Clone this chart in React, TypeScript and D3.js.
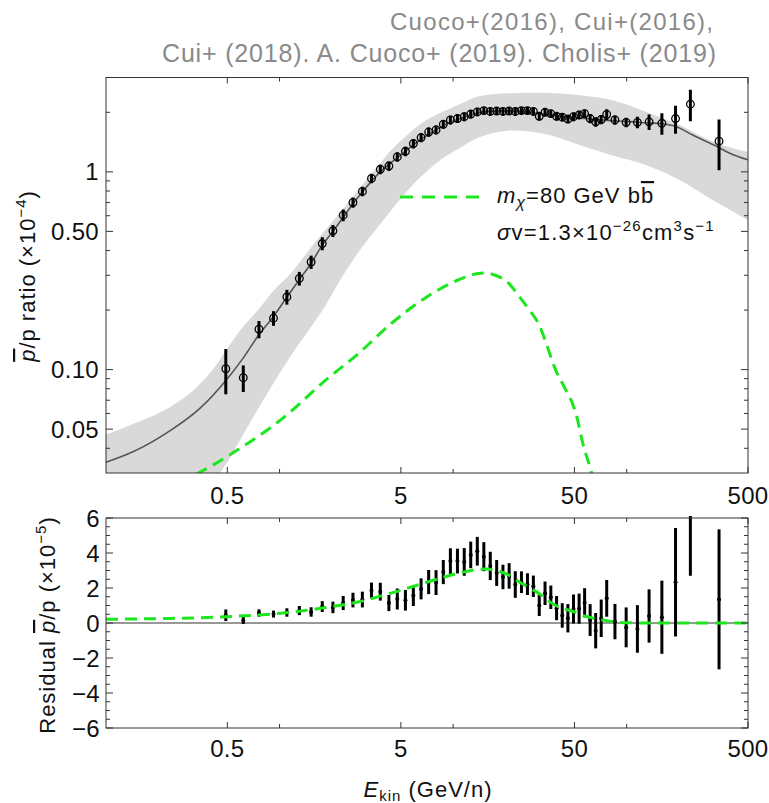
import React from 'react';
import * as d3 from 'd3';

const FONT = "'Liberation Sans', Arial, Helvetica, sans-serif";
const GREEN = '#1ee61e';
const AXIS = '#333333';

// AMS-02 antiproton/proton data (E_kin in GeV/n)
const energy = [0.49, 0.618, 0.761, 0.923, 1.102, 1.30, 1.52, 1.762, 2.03, 2.326,
  2.648, 3.00, 3.385, 3.805, 4.266, 4.768, 5.311, 5.90, 6.538, 7.228,
  7.973, 8.778, 9.644, 10.59, 11.59, 12.63, 13.78, 15.03, 16.37, 17.82,
  19.37, 21.02, 22.81, 24.76, 26.81, 29.0, 31.35, 33.85, 36.55, 39.45,
  42.54, 45.84, 49.39, 53.19, 57.23, 61.58, 66.27, 71.32, 76.72, 85.59,
  99.29, 115.3, 134.6, 159.5, 191.2, 232.8, 340.5];
// ratio in units of 1e-4
const ratio = [0.101, 0.091, 0.160, 0.182, 0.233, 0.289, 0.350, 0.434, 0.503, 0.604,
  0.700, 0.796, 0.926, 1.03, 1.07, 1.19, 1.27, 1.39, 1.49, 1.59,
  1.63, 1.74, 1.83, 1.86, 1.90, 1.96, 2.01, 2.04, 2.02, 2.03,
  2.02, 2.03, 2.02, 2.04, 2.04, 2.02, 1.91, 2.00, 1.97, 1.91,
  1.89, 1.85, 1.90, 1.94, 1.97, 1.86, 1.79, 1.84, 1.95, 1.83,
  1.78, 1.78, 1.79, 1.76, 1.86, 2.20, 1.43];
const ratioErr = [0.026, 0.014, 0.016, 0.0155, 0.02, 0.023, 0.027, 0.033, 0.035, 0.041,
  0.042, 0.044, 0.051, 0.057, 0.059, 0.065, 0.07, 0.076, 0.08, 0.085,
  0.087, 0.09, 0.093, 0.094, 0.095, 0.097, 0.098, 0.09, 0.09, 0.09,
  0.09, 0.09, 0.09, 0.09, 0.09, 0.09, 0.09, 0.09, 0.09, 0.09,
  0.09, 0.09, 0.095, 0.095, 0.095, 0.1, 0.1, 0.1, 0.12, 0.1,
  0.1, 0.12, 0.16, 0.22, 0.3, 0.4, 0.41];
// residual in units of 1e-5
const residual = [0.44, 0.15, 0.57, 0.51, 0.60, 0.71, 0.63, 0.94, 0.89, 1.14,
  1.31, 1.34, 1.86, 1.79, 1.14, 1.37, 1.30, 1.57, 1.95, 2.34,
  2.31, 2.91, 3.54, 3.54, 3.49, 3.89, 4.10, 3.79, 3.26, 2.86,
  2.63, 2.69, 2.20, 2.33, 2.22, 2.10, 1.00, 1.70, 1.47, 0.85,
  0.43, 0.27, 0.80, 0.82, 1.16, 0.17, -0.44, 0.27, 1.41, 0.08,
  -0.25, -0.34, 0.40, 0.33, 2.33, 6.6, 1.35];
const residualErr = [0.33, 0.21, 0.21, 0.20, 0.24, 0.26, 0.27, 0.31, 0.33, 0.40,
  0.42, 0.45, 0.45, 0.51, 0.46, 0.60, 0.59, 0.60, 0.60, 0.69,
  0.71, 0.69, 0.73, 0.71, 0.79, 0.76, 0.82, 0.83, 0.81, 0.74,
  0.70, 0.73, 0.76, 0.62, 0.62, 0.61, 0.60, 0.67, 0.67, 0.69,
  0.70, 0.81, 0.83, 0.86, 0.83, 0.91, 1.01, 1.07, 1.05, 1.01,
  1.14, 1.36, 1.52, 2.09, 3.10, 3.9, 4.0];

// best-fit model curve (1e-4)
const modelE = [0.1, 0.144, 0.225, 0.35, 0.5, 0.62, 0.76, 0.92, 1.1, 1.3, 1.52, 1.76, 2.03, 2.33, 2.65, 3.0, 3.4, 3.8, 4.27, 4.77,
  5.3, 5.9, 6.54, 7.23, 7.97, 8.78, 9.64, 10.6, 11.6, 12.6, 13.8, 15, 16.4, 17.8, 19.4, 21, 22.8, 26.8, 31.4, 39.5,
  49.4, 61.6, 76.7, 99, 130, 160, 190, 242, 316, 411, 500];
const modelRatio = [0.034, 0.0385, 0.048, 0.064, 0.090, 0.115, 0.150, 0.185, 0.232, 0.285, 0.345, 0.425, 0.50, 0.59, 0.69, 0.79, 0.90, 1.00, 1.09, 1.18,
  1.27, 1.37, 1.46, 1.55, 1.63, 1.71, 1.78, 1.84, 1.89, 1.94, 1.98, 2.01, 2.02, 2.03, 2.03, 2.03, 2.02, 2.0, 1.97, 1.92,
  1.88, 1.85, 1.82, 1.80, 1.77, 1.75, 1.70, 1.53, 1.37, 1.22, 1.15];

// uncertainty band (1e-4)
const bandE = [0.1, 0.15, 0.225, 0.35, 0.44, 0.5, 0.6, 0.75, 0.92, 1.18, 1.47, 1.83, 2.29, 2.83, 3.56, 4.4, 5.5, 6.84, 8.6, 10.6,
  14.3, 22.3, 31.7, 54, 83, 130, 203, 314, 500];
const bandHi = [0.047, 0.054, 0.0634, 0.085, 0.108, 0.128, 0.16, 0.2, 0.25, 0.312, 0.40, 0.507, 0.64, 0.808, 1.03, 1.29, 1.55, 1.80, 2.0, 2.17,
  2.42, 2.5, 2.51, 2.44, 2.3, 2.01, 1.72, 1.42, 1.26];
const bandLo = [0.008, 0.011, 0.015, 0.022, 0.029, 0.034, 0.045, 0.063, 0.085, 0.12, 0.158, 0.21, 0.294, 0.39, 0.507, 0.64, 0.81, 0.98, 1.16, 1.30,
  1.50, 1.62, 1.57, 1.365, 1.21, 1.08, 0.908, 0.719, 0.57];

// dark matter contribution (1e-4)
const dmE = [0.1, 0.2, 0.34, 0.54, 1.05, 1.83, 2.83, 4.4, 6.84, 10.6, 13.9, 15.5, 17.5, 20.5, 24, 26.7, 31.7, 33, 39.7, 43,
  51.8, 56, 61.5, 73, 95, 130, 200, 500];
const dmRatio = [0.021, 0.025, 0.030, 0.038, 0.057, 0.088, 0.12, 0.171, 0.229, 0.283, 0.306, 0.308, 0.300, 0.278, 0.235, 0.207, 0.164, 0.15, 0.096, 0.084,
  0.057, 0.042, 0.032, 0.017, 0.002, 0.0002, 0.00001, 0.000001];

const xMajor = [0.5, 5, 50, 500];
const xLabels = ['0.5', '5', '50', '500'];
const xMinor = [1, 10, 100];
const yTopMajor = [0.05, 0.1, 0.5, 1];
const yTopLabels = ['0.05', '0.10', '0.50', '1'];
const yTopMinor = [0.04, 0.06, 0.07, 0.08, 0.09, 0.2, 0.3, 0.4, 0.6, 0.7, 0.8, 0.9, 2];
const yResMajor = [-6, -4, -2, 0, 2, 4, 6];
const yResLabels = ['\u22126', '\u22124', '\u22122', '0', '2', '4', '6'];

const titleLines = ['Cuoco+(2016), Cui+(2016),', 'Cui+ (2018). A. Cuoco+ (2019). Cholis+ (2019)'];

export default function App() {
  const L = 106, R = 748, T1 = 77.5, B1 = 473, T2 = 518, B2 = 728;
  const x = d3.scaleLog().domain([0.1, 500]).range([L, R]);
  const yT = d3.scaleLog().domain([0.03, 3]).range([B1, T1]);
  const yR = d3.scaleLinear().domain([-6, 6]).range([B2, T2]);

  const lineT = d3.line<[number, number]>().x(d => x(d[0])).y(d => yT(d[1])).curve(d3.curveMonotoneX);
  const lineR = d3.line<[number, number]>().x(d => x(d[0])).y(d => yR(d[1])).curve(d3.curveMonotoneX);
  const band = d3.area<number>()
    .x(i => x(bandE[i])).y0(i => yT(bandLo[i])).y1(i => yT(bandHi[i]))
    .curve(d3.curveMonotoneX);

  const modelPath = lineT(modelE.map((e, i) => [e, modelRatio[i]] as [number, number])) || '';
  const dmTopPath = lineT(dmE.map((e, i) => [e, dmRatio[i]] as [number, number])) || '';
  const dmResPath = lineR(dmE.map((e, i) => [e, dmRatio[i] * 10] as [number, number])) || '';
  const bandPath = band(d3.range(bandE.length)) || '';

  const resMinor = d3.range(-6, 6.001, 0.5).filter(v => Math.abs(v % 2) > 1e-6);

  const txt = { fontFamily: FONT, fontSize: 22, letterSpacing: 1, fill: '#111' } as const;
  const tick = { fontFamily: FONT, fontSize: 24, letterSpacing: 0.3, fill: '#111' } as const;
  const dash = '12 7';

  const xTicks = (top: number, bot: number, key: string) => (
    <g key={key} stroke={AXIS} strokeWidth={1}>
      {xMajor.map(v => (
        <g key={'M' + v}>
          <line x1={x(v)} x2={x(v)} y1={bot} y2={bot - 6} />
          <line x1={x(v)} x2={x(v)} y1={top} y2={top + 6} />
        </g>
      ))}
      {xMinor.map(v => (
        <g key={'m' + v}>
          <line x1={x(v)} x2={x(v)} y1={bot} y2={bot - 4} />
          <line x1={x(v)} x2={x(v)} y1={top} y2={top + 4} />
        </g>
      ))}
    </g>
  );

  return (
    <svg width={769} height={803} viewBox="0 0 769 803"
      style={{ position: 'absolute', left: 0, top: 0, background: '#fff' }}>
      <defs>
        <clipPath id="clipTop"><rect x={L} y={T1} width={R - L} height={B1 - T1} /></clipPath>
        <clipPath id="clipRes"><rect x={L} y={T2 - 2} width={R - L} height={B2 - T2 + 2} /></clipPath>
      </defs>

      {/* Title */}
      <g fontFamily={FONT} fill="#8a8a8a">
        <text x={390} y={30} fontSize={24} textLength={323} lengthAdjust="spacing">{titleLines[0]}</text>
        <text x={162} y={62} fontSize={25} textLength={554} lengthAdjust="spacing">{titleLines[1]}</text>
      </g>

      {/* ===== Top panel ===== */}
      <g clipPath="url(#clipTop)">
        <path d={bandPath} fill="#d9d9d9" stroke="none" />
        <path d={modelPath} fill="none" stroke="#555" strokeWidth={1.6} />
        <path d={dmTopPath} fill="none" stroke={GREEN} strokeWidth={3} strokeDasharray={dash} />
        {energy.map((e, i) => (
          <line key={'eb' + i} x1={x(e)} x2={x(e)}
            y1={yT(ratio[i] + ratioErr[i])} y2={yT(Math.max(ratio[i] - ratioErr[i], 0.001))}
            stroke="#000" strokeWidth={3} />
        ))}
        {energy.map((e, i) => (
          <circle key={'pt' + i} cx={x(e)} cy={yT(ratio[i])} r={3.8} fill="none" stroke="#000" strokeWidth={1.3} />
        ))}
      </g>
      <rect x={L} y={T1} width={R - L} height={B1 - T1} fill="none" stroke={AXIS} strokeWidth={1} />
      {xTicks(T1, B1, 'xt1')}
      <g stroke={AXIS} strokeWidth={1}>
        {yTopMajor.map(v => (
          <g key={'ym' + v}>
            <line x1={L} x2={L + 7} y1={yT(v)} y2={yT(v)} />
            <line x1={R} x2={R - 7} y1={yT(v)} y2={yT(v)} />
          </g>
        ))}
        {yTopMinor.map(v => (
          <g key={'yn' + v}>
            <line x1={L} x2={L + 4} y1={yT(v)} y2={yT(v)} />
            <line x1={R} x2={R - 4} y1={yT(v)} y2={yT(v)} />
          </g>
        ))}
      </g>
      {yTopMajor.map((v, i) => (
        <text key={'yl' + v} x={99} y={yT(v)} dy="0.36em" textAnchor="end" {...tick}>{yTopLabels[i]}</text>
      ))}
      {xMajor.map((v, i) => (
        <text key={'xl1' + v} x={x(v)} y={504} textAnchor="middle" {...tick}>{xLabels[i]}</text>
      ))}

      {/* Legend */}
      <line x1={400} x2={479} y1={197} y2={197} stroke={GREEN} strokeWidth={3} strokeDasharray="13 9" />
      <text x={497} y={203} {...txt}>
        <tspan fontStyle="italic">m</tspan>
        <tspan fontStyle="italic" fontSize={16} dy={5}>χ</tspan>
        <tspan dy={-5}>=80 GeV b</tspan>
        <tspan style={{ textDecoration: 'overline' }}>b</tspan>
      </text>
      <text x={497} y={240} {...txt} letterSpacing={1.2}>
        <tspan fontStyle="italic">σ</tspan>
        <tspan>v=1.3×10</tspan>
        <tspan fontSize={15} dy={-9}>−26</tspan>
        <tspan dy={9}>cm</tspan>
        <tspan fontSize={15} dy={-9}>3</tspan>
        <tspan dy={9}>s</tspan>
        <tspan fontSize={15} dy={-9}>−1</tspan>
      </text>

      {/* Top y label */}
      <text transform="translate(35,276) rotate(-90)" textAnchor="middle" {...txt}>
        <tspan fontStyle="italic" style={{ textDecoration: 'overline' }}>p</tspan>
        <tspan>/p ratio (×10</tspan>
        <tspan fontSize={15} dy={-9}>−4</tspan>
        <tspan dy={9}>)</tspan>
      </text>

      {/* ===== Residual panel ===== */}
      <line x1={L} x2={R} y1={yR(0)} y2={yR(0)} stroke="#333" strokeWidth={1} />
      <g clipPath="url(#clipRes)">
        {energy.map((e, i) => (
          <line key={'rb' + i} x1={x(e)} x2={x(e)}
            y1={yR(residual[i] + residualErr[i])} y2={yR(residual[i] - residualErr[i])}
            stroke="#000" strokeWidth={3} />
        ))}
        {energy.map((e, i) => (
          <circle key={'rp' + i} cx={x(e)} cy={yR(residual[i])} r={2} fill="#000" />
        ))}
        <path d={dmResPath} fill="none" stroke={GREEN} strokeWidth={3} strokeDasharray={dash} />
      </g>
      <rect x={L} y={T2} width={R - L} height={B2 - T2} fill="none" stroke={AXIS} strokeWidth={1} />
      {xTicks(T2, B2, 'xt2')}
      <g stroke={AXIS} strokeWidth={1}>
        {yResMajor.map(v => (
          <g key={'rm' + v}>
            <line x1={L} x2={L + 7} y1={yR(v)} y2={yR(v)} />
            <line x1={R} x2={R - 7} y1={yR(v)} y2={yR(v)} />
          </g>
        ))}
        {resMinor.map(v => (
          <g key={'rn' + v}>
            <line x1={L} x2={L + 4} y1={yR(v)} y2={yR(v)} />
            <line x1={R} x2={R - 4} y1={yR(v)} y2={yR(v)} />
          </g>
        ))}
      </g>
      {yResMajor.map((v, i) => (
        <text key={'rl' + v} x={100} y={yR(v)} dy="0.36em" textAnchor="end" {...tick}>{yResLabels[i]}</text>
      ))}
      {xMajor.map((v, i) => (
        <text key={'xl2' + v} x={x(v)} y={757} textAnchor="middle" {...tick}>{xLabels[i]}</text>
      ))}

      {/* Residual y label */}
      <text transform="translate(55,625) rotate(-90)" textAnchor="middle" {...txt}>
        <tspan>Residual </tspan>
        <tspan fontStyle="italic" style={{ textDecoration: 'overline' }}>p</tspan>
        <tspan>/p (×10</tspan>
        <tspan fontSize={15} dy={-9}>−5</tspan>
        <tspan dy={9}>)</tspan>
      </text>

      {/* x label */}
      <text x={428} y={797} textAnchor="middle" {...txt}>
        <tspan fontStyle="italic">E</tspan>
        <tspan fontSize={15} dy={4}>kin</tspan>
        <tspan dy={-4}> (GeV/n)</tspan>
      </text>
    </svg>
  );
}
